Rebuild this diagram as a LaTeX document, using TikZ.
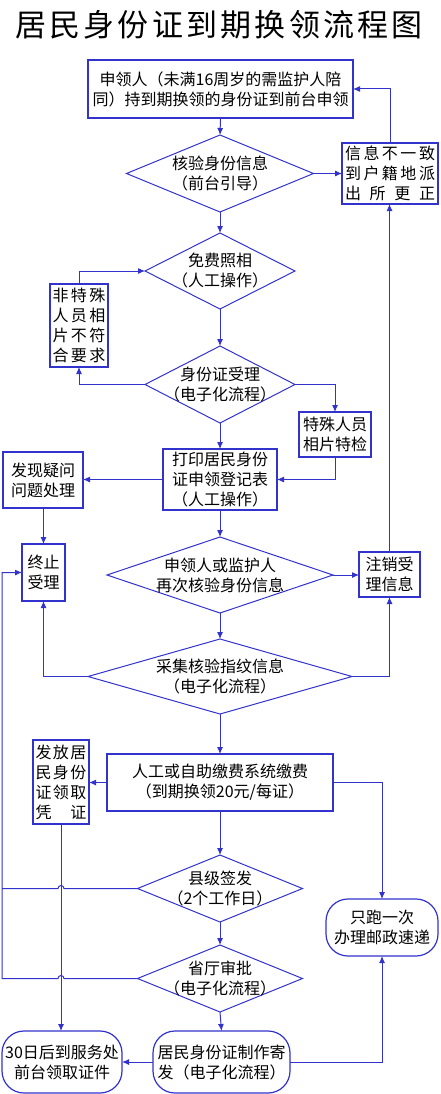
\documentclass[tikz,border=0pt]{standalone}
\usepackage{fontspec}
\setmainfont{Noto Sans CJK SC}
\usetikzlibrary{shapes.geometric,arrows.meta}
\definecolor{lc}{RGB}{50,50,205}
\newcommand\sprd[2]{\makebox[#1][s]{#2}}
\begin{document}
\begin{tikzpicture}[x=1pt,y=-1pt,
  every node/.style={font=\fontsize{16}{20}\selectfont, text=black},
  box/.style={draw=lc, line width=1.4pt, rectangle, inner sep=0pt, outer sep=0pt, align=center},
  rbox/.style={box, rounded corners=22pt, line width=1.2pt},
  dia/.style={draw=lc, line width=1pt, diamond, inner sep=0pt, outer sep=0pt},
  lbl/.style={align=center, inner sep=0pt},
  conn/.style={draw=lc, line width=1pt},
  arr/.style={conn, -{Latex[length=7pt,width=6pt]}},
]
\useasboundingbox (0,0) rectangle (440,1094);

% title
\node[font=\fontsize{31}{36}\selectfont, inner sep=0pt] (title) at (219,25)
  {\sprd{408pt}{居\hfill 民\hfill 身\hfill 份\hfill 证\hfill 到\hfill 期\hfill 换\hfill 领\hfill 流\hfill 程\hfill 图}};

% boxes
\node[box, minimum width=265pt, minimum height=58pt] (b1) at (220.5,89)
  {申领人（未满16周岁的需监护人陪\\同）持到期换领的身份证到前台申领};
\node[box, minimum width=96pt, minimum height=61pt] (binfo) at (390,173.5)
  {\sprd{90pt}{信\hfill 息\hfill 不\hfill 一\hfill 致}\\
   \sprd{90pt}{到\hfill 户\hfill 籍\hfill 地\hfill 派}\\
   \sprd{90pt}{出\hfill 所\hfill 更\hfill 正}};
\node[box, minimum width=58pt, minimum height=83pt] (bnon) at (79,325.5)
  {\sprd{53pt}{非\hfill 特\hfill 殊}\\
   \sprd{53pt}{人\hfill 员\hfill 相}\\
   \sprd{53pt}{片\hfill 不\hfill 符}\\
   \sprd{53pt}{合\hfill 要\hfill 求}};
\node[box, minimum width=72pt, minimum height=45pt] (bspec) at (335,434.5)
  {特殊人员\\相片特检};
\node[box, minimum width=114pt, minimum height=61pt] (bprint) at (220,479.5)
  {打印居民身份\\证申领登记表\\（人工操作）};
\node[box, minimum width=80pt, minimum height=56pt] (bfind) at (43,480)
  {发现疑问\\问题处理};
\node[box, minimum width=43pt, minimum height=57pt] (bstop) at (43.5,572.5)
  {终止\\受理};
\node[box, minimum width=61pt, minimum height=45pt] (bcancel) at (389.5,574.5)
  {注销受\\理信息};
\node[box, minimum width=226pt, minimum height=57pt] (bpay) at (220,782.5)
  {人工或自助缴费系统缴费\\（到期换领20元/每证）};
\node[box, minimum width=56pt, minimum height=84pt] (bissue) at (61,782)
  {\sprd{51pt}{发\hfill 放\hfill 居}\\
   \sprd{51pt}{民\hfill 身\hfill 份}\\
   \sprd{51pt}{证\hfill 领\hfill 取}\\
   \sprd{51pt}{凭\hfill 证}};
\node[rbox, minimum width=112pt, minimum height=57pt] (bonce) at (382,927.5)
  {只跑一次\\办理邮政速递};
\node[rbox, minimum width=137pt, minimum height=62pt] (bmake) at (221.5,1062)
  {居民身份证制作寄\\发（电子化流程）};
\node[rbox, minimum width=120pt, minimum height=62pt] (b30) at (62,1062)
  {30日后到服务处\\前台领取证件};

% diamonds
\node[dia, minimum width=187pt, minimum height=77pt] (d1) at (220,173.5) {};
\node[lbl] (d1t) at (d1) {核验身份信息\\（前台引导）};
\node[dia, minimum width=150pt, minimum height=76pt] (d2) at (220,271) {};
\node[lbl] (d2t) at (d2) {免费照相\\（人工操作）};
\node[dia, minimum width=150pt, minimum height=77pt] (d3) at (220,384.5) {};
\node[lbl] (d3t) at (d3) {身份证受理\\（电子化流程）};
\node[dia, minimum width=226pt, minimum height=76pt] (d4) at (220,575) {};
\node[lbl] (d4t) at (d4) {申领人或监护人\\再次核验身份信息};
\node[dia, minimum width=264pt, minimum height=75pt] (d5) at (220,676.5) {};
\node[lbl] (d5t) at (d5) {采集核验指纹信息\\（电子化流程）};
\node[dia, minimum width=165pt, minimum height=67pt] (d6) at (220,888.5) {};
\node[lbl] (d6t) at (d6) {县级签发\\（2个工作日）};
\node[dia, minimum width=165pt, minimum height=67pt] (d7) at (220,978.5) {};
\node[lbl] (d7t) at (d7) {省厅审批\\（电子化流程）};

\coordinate (lftx) at (2,0);

% main flow
\draw[arr] (b1.south) -- (d1.north);
\draw[arr] (d1.south) -- (d2.north);
\draw[arr] (d2.south) -- (d3.north);
\draw[arr] (d3.south) -- (bprint.north);
\draw[arr] (bprint.south) -- (d4.north);
\draw[arr] (d4.south) -- (d5.north);
\draw[arr] (d5.south) -- (bpay.north);
\draw[arr] (bpay.south) -- (d6.north);
\draw[arr] (d6.south) -- (d7.north);
\draw[arr] (d7.south) -- (bmake.north);

% side branches
\draw[arr] (d1.east) -- (binfo.west);
\draw[arr] (binfo.north) |- (b1.east);
\draw[arr] (bcancel.north) -- (bcancel.north |- binfo.south);
\draw[arr] (bnon.north) |- (d2.west);
\draw[arr] (d3.west) -| (bnon.south);
\draw[arr] (d3.east) -| (bspec.north);
\draw[arr] (bspec.south) |- (bprint.east);
\draw[arr] (bprint.west) -- (bfind.east |- bprint.west);
\draw[arr] (bfind.south -| bstop.north) -- (bstop.north);
\draw[arr] (d4.east) -- (bcancel.west |- d4.east);
\draw[arr] (d5.west) -| (bstop.south);
\draw[arr] (d5.east) -| (bcancel.south);
\draw[arr] (bpay.west) -- (bissue.east |- bpay.west);
\draw[arr] (bpay.east) -| (bonce.north);
\draw[arr] (bissue.south) -- (bissue.south |- b30.north);
\draw[arr] (bmake.west) -- (b30.east);
\draw[arr] (bmake.east) -| (bonce.south);

% long left return with bridges
\draw[conn] (d6.west) -- ([xshift=3pt]d6.west -| bissue.south)
  arc[start angle=0, end angle=180, radius=3pt] -- (d6.west -| lftx);
\draw[arr] (d7.west) -- ([xshift=3pt]d7.west -| bissue.south)
  arc[start angle=0, end angle=180, radius=3pt] -- (d7.west -| lftx)
  -- (bstop.west -| lftx) -- (bstop.west);
\end{tikzpicture}
\end{document}
